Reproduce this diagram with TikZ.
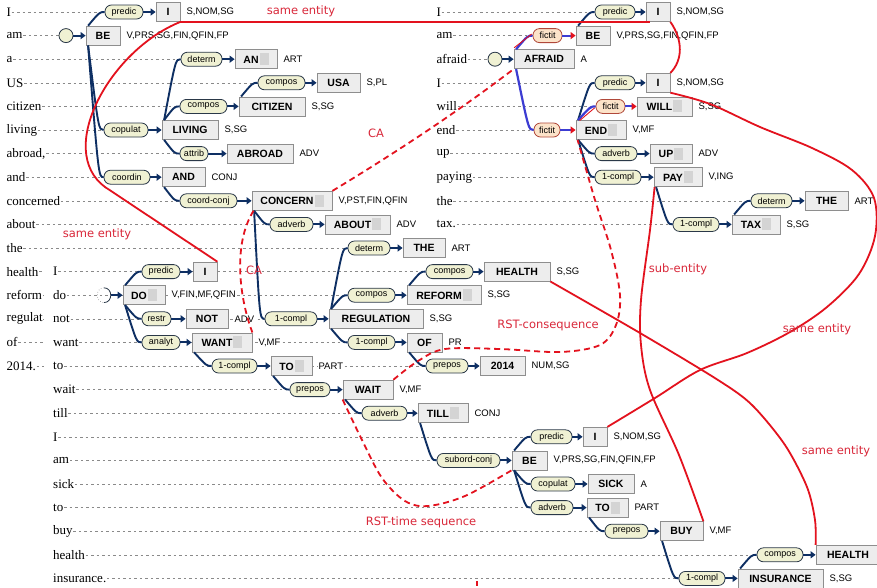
\documentclass[tikz,border=0pt]{standalone}
\usepackage{fontspec}
\setmainfont{Liberation Serif}
\setsansfont{Liberation Sans}
\newfontfamily\annfont{DejaVu Sans}
\usetikzlibrary{arrows.meta,backgrounds}

\definecolor{navy}{HTML}{0E2F63}
\definecolor{fictblue}{HTML}{3C3CD2}
\definecolor{linkred}{HTML}{E3121E}
\definecolor{annred}{HTML}{D9283A}
\definecolor{pillfill}{HTML}{F0F1D3}
\definecolor{pillline}{HTML}{2A3848}
\definecolor{fictfill}{HTML}{FCE3C9}
\definecolor{fictline}{HTML}{B0483A}
\definecolor{boxfill}{HTML}{EDEDED}
\definecolor{boxline}{HTML}{8E8E8E}
\definecolor{blurgray}{HTML}{D4D4D4}
\definecolor{wordline}{HTML}{8A8A8A}

% blurred lemma suffix inside a box
\newcommand\gb{\hspace{1pt}\textcolor{blurgray}{\rule[-2pt]{9pt}{12pt}}}

% label pill: [style]{name}{left}{right}{row}{text}
\newcommand\mklab[6][pill]{\node[#1, minimum width={(#4-#3)*1pt}] (#2) at ({(#3+#4)/2},{ry(#5)}) {#6};}
% word box with its tag: {name}{left}{right}{row}{text}{tag}
\newcommand\mkbox[6]{\node[box, minimum width={(#3-#2)*1pt}] (#1) at ({(#2+#3)/2},{ry(#4)}) {#5};
  \if\relax\detokenize{#6}\relax\else\node[tagt] (#1t) at ([xshift=5pt]#1.east) {#6};\fi}
% dependency edges from a head box to a label
\newcommand\eup[3][edge]{\draw[#1] ([xshift=2.5pt]#2.north west) .. controls ([xshift=-5pt]#3.west) .. (#3.west);}
\newcommand\edn[3][edge]{\draw[#1] ([xshift=2.5pt]#2.south west) .. controls ([xshift=-5pt]#3.west) .. (#3.west);}

\begin{document}
\begin{tikzpicture}[x=1pt,y=-1pt,
  declare function={ry(\k)=12+23.6*\k;},
  word/.style={font=\fontsize{13}{15}\selectfont, anchor=west, inner sep=0.5pt},
  wordb/.style={word, fill=white},
  wl/.style={draw=wordline, line width=0.6pt, dash pattern=on 2.5pt off 3pt},
  pill/.style={draw=pillline, fill=pillfill, line width=0.8pt, rounded corners=6.5pt,
    minimum height=14pt, inner sep=1pt, font=\sffamily\fontsize{9}{10}\selectfont},
  fict/.style={pill, draw=fictline, fill=fictfill},
  box/.style={draw=boxline, fill=boxfill, line width=0.8pt, minimum height=19pt, inner sep=2pt,
    font=\sffamily\bfseries\fontsize{10.5}{12}\selectfont},
  tagt/.style={anchor=west, fill=white, inner sep=1pt, font=\sffamily\fontsize{9.5}{11}\selectfont},
  root/.style={circle, draw=pillline, fill=pillfill, line width=0.8pt, minimum size=14pt, inner sep=0pt},
  edge/.style={draw=navy, line width=1.9pt},
  fedge/.style={draw=fictblue, line width=2.2pt},
  arr/.style={draw=navy, line width=1.9pt, -{Triangle[length=5pt,width=7pt]}},
  farr/.style={draw=fictblue, line width=2pt, -{Triangle[length=5pt,width=7pt,color=linkred]}},
  rel/.style={draw=linkred, line width=1.8pt},
  reld/.style={rel, dash pattern=on 6pt off 4pt},
  ann/.style={text=annred, font=\annfont\fontsize{11.5}{13}\selectfont, inner sep=0pt}]

\useasboundingbox (0,0) rectangle (877,587);
\begin{scope}[on background layer]
  \fill[white] (0,0) rectangle (877,587);
\end{scope}

% ---------- the sentences, one word per row ----------
\foreach \t [count=\i from 0] in {I,am,a,US,citizen,living,{abroad,},and,concerned,about,the,health,reform,regulat,of,2014.}
  \node[word] (wa\i) at (6,{ry(\i)}) {\t};
\foreach \t [count=\i from 11] in {I,do,not,want,to,wait,till,I,am,sick,to,buy,health,insurance.}
  \node[wordb] (wb\i) at (44,{ry(\i)}) {\hspace*{8.5pt}\t};
\foreach \t [count=\i from 0] in {I,am,afraid,I,will,end,up,paying,the,tax.}
  \node[word] (wc\i) at (436,{ry(\i)}) {\t};

% ---------- sentence 1 ----------
\node[root] (rA) at (66,{ry(1)}) {};
\mkbox{bA0}{156}{180}{0}{I}{S,NOM,SG}
\mkbox{bA1}{86}{120}{1}{BE}{V,PRS,SG,FIN,QFIN,FP}
\mkbox{bA2}{235}{277}{2}{AN\gb}{ART}
\mkbox{bA3}{317}{360}{3}{USA}{S,PL}
\mkbox{bA4}{239}{305}{4}{CITIZEN}{S,SG}
\mkbox{bA5}{162}{218}{5}{LIVING}{S,SG}
\mkbox{bA6}{227}{293}{6}{ABROAD}{ADV}
\mkbox{bA7}{162}{205}{7}{AND}{CONJ}
\mkbox{bA8}{252}{332}{8}{CONCERN\gb}{V,PST,FIN,QFIN}
\mkbox{bA9}{325}{390}{9}{ABOUT\gb}{ADV}
\mkbox{bA10}{403}{445}{10}{THE}{ART}
\mkbox{bA11}{484}{550}{11}{HEALTH}{S,SG}
\mkbox{bA12}{407}{481}{12}{REFORM\gb}{S,SG}
\mkbox{bA13}{329}{423}{13}{REGULATION}{S,SG}
\mkbox{bA14}{407}{442}{14}{OF}{PR}
\mkbox{bA15}{480}{525}{15}{2014}{NUM,SG}

\mklab{lA0}{105}{143}{0}{predic}
\mklab{lA2}{181}{222}{2}{determ}
\mklab{lA3}{258}{305}{3}{compos}
\mklab{lA4}{180}{227}{4}{compos}
\mklab{lA5}{104}{148}{5}{copulat}
\mklab{lA6}{180}{208}{6}{attrib}
\mklab{lA7}{104}{150}{7}{coordin}
\mklab{lA8}{180}{237}{8}{coord-conj}
\mklab{lA9}{270}{313}{9}{adverb}
\mklab{lA10}{348}{390}{10}{determ}
\mklab{lA11}{426}{473}{11}{compos}
\mklab{lA12}{348}{395}{12}{compos}
\mklab{lA13}{265}{317}{13}{1-compl}
\mklab{lA14}{348}{395}{14}{1-compl}
\mklab{lA15}{426}{468}{15}{prepos}

% ---------- sentence 2 ----------
\node[root, draw=none, fill=none] (rB) at (104,{ry(12)}) {};
\mkbox{bB11}{193}{217}{11}{I}{}
\mkbox{bB12}{123}{165}{12}{DO\gb}{V,FIN,MF,QFIN}
\mkbox{bB13}{186}{228}{13}{NOT}{ADV}
\mkbox{bB14}{192}{252}{14}{WANT\gb}{V,MF}
\mkbox{bB15}{271}{312}{15}{TO\gb}{PART}
\mkbox{bB16}{343}{393}{16}{WAIT}{V,MF}
\mkbox{bB17}{418}{468}{17}{TILL\gb}{CONJ}
\mkbox{bB18}{583}{607}{18}{I}{S,NOM,SG}
\mkbox{bB19}{512}{547}{19}{BE}{V,PRS,SG,FIN,QFIN,FP}
\mkbox{bB20}{588}{634}{20}{SICK}{A}
\mkbox{bB21}{587}{628}{21}{TO\gb}{PART}
\mkbox{bB22}{660}{703}{22}{BUY}{V,MF}
\mkbox{bB23}{816}{880}{23}{HEALTH}{}
\mkbox{bB24}{738}{823}{24}{INSURANCE}{S,SG}

\mklab{lB11}{142}{180}{11}{predic}
\mklab{lB13}{142}{171}{13}{restr}
\mklab{lB14}{142}{180}{14}{analyt}
\mklab{lB15}{212}{257}{15}{1-compl}
\mklab{lB16}{290}{330}{16}{prepos}
\mklab{lB17}{362}{407}{17}{adverb}
\mklab{lB18}{531}{572}{18}{predic}
\mklab{lB19}{437}{500}{19}{subord-conj}
\mklab{lB20}{531}{575}{20}{copulat}
\mklab{lB21}{531}{573}{21}{adverb}
\mklab{lB22}{605}{648}{22}{prepos}
\mklab{lB23}{757}{803}{23}{compos}
\mklab{lB24}{679}{725}{24}{1-compl}

% ---------- sentence 3 ----------
\node[root] (rC) at (495,{ry(2)}) {};
\mkbox{bC0}{646}{670}{0}{I}{S,NOM,SG}
\mkbox{bC1}{576}{610}{1}{BE}{V,PRS,SG,FIN,QFIN,FP}
\mkbox{bC2}{514}{574}{2}{AFRAID}{A}
\mkbox{bC3}{646}{670}{3}{I}{S,NOM,SG}
\mkbox{bC4}{637}{692}{4}{WILL\gb}{S,SG}
\mkbox{bC5}{576}{626}{5}{END\gb}{V,MF}
\mkbox{bC6}{650}{692}{6}{UP\gb}{ADV}
\mkbox{bC7}{654}{702}{7}{PAY\gb}{V,ING}
\mkbox{bC8}{805}{848}{8}{THE}{ART}
\mkbox{bC9}{732}{780}{9}{TAX\gb}{S,SG}

\mklab{lC0}{595}{635}{0}{predic}
\mklab[fict]{lC1}{533}{562}{1}{fictit}
\mklab{lC3}{595}{635}{3}{predic}
\mklab[fict]{lC4}{596}{625}{4}{fictit}
\mklab[fict]{lC5}{534}{560}{5}{fictit}
\mklab{lC6}{595}{637}{6}{adverb}
\mklab{lC7}{595}{641}{7}{1-compl}
\mklab{lC8}{751}{792}{8}{determ}
\mklab{lC9}{673}{719}{9}{1-compl}

% ---------- dotted guide lines from each word to its node ----------
\begin{scope}[on background layer]
  \foreach \a/\b in {wa0/lA0,wa1/rA,wa2/lA2,wa3/lA3,wa4/lA4,wa5/lA5,wa6/lA6,wa7/lA7,
      wa8/lA8,wa9/lA9,wa10/lA10,
      wb11/lB11,wb12/rB,wb13/lB13,wb14/lB14,wb15/lB15,wb16/lB16,wb17/lB17,wb18/lB18,
      wb19/lB19,wb20/lB20,wb21/lB21,wb22/lB22,wb23/lB23,wb24/lB24,
      wc0/lC0,wc1/lC1,wc2/rC,wc3/lC3,wc4/lC4,wc5/lC5,wc6/lC6,wc7/lC7,wc8/lC8,wc9/lC9}
    \draw[wl] (\a.east) -- (\a.east -| \b.west);
  % rows shared by both sentences: the first sentence's line resumes after the second's word
  \foreach \r in {11,...,15} {
    \draw[wl] (wa\r.east) -- (wa\r.east -| wb\r.west);
    \draw[wl] (wb\r.east) -- (wb\r.east -| lA\r.west);
  }
\end{scope}

% the root of sentence 2 is only half drawn
\draw[pillline, line width=0.8pt] (rB.north) .. controls ([xshift=9pt]rB.north) and ([xshift=9pt]rB.south) .. (rB.south);
\draw[wordline, line width=0.6pt, dotted] (rB.north) .. controls ([xshift=-9pt]rB.north) and ([xshift=-9pt]rB.south) .. (rB.south);

% ---------- dependency edges ----------
\eup{bA1}{lA0} \edn{bA1}{lA5} \edn{bA1}{lA7}
\eup{bA5}{lA2} \eup{bA5}{lA4} \edn{bA5}{lA6}
\eup{bA4}{lA3} \edn{bA7}{lA8}
\edn{bA8}{lA9} \edn{bA8}{lA13}
\eup{bA13}{lA10} \eup{bA13}{lA12} \edn{bA13}{lA14}
\eup{bA12}{lA11} \edn{bA14}{lA15}

\eup{bB12}{lB11} \edn{bB12}{lB13} \edn{bB12}{lB14}
\edn{bB14}{lB15} \edn{bB15}{lB16} \edn{bB16}{lB17} \edn{bB17}{lB19}
\eup{bB19}{lB18} \edn{bB19}{lB20} \edn{bB19}{lB21}
\edn{bB21}{lB22} \edn{bB22}{lB24} \eup{bB24}{lB23}

\eup[fedge]{bC2}{lC1} \edn[fedge]{bC2}{lC5}
\draw[linkred, line width=0.9pt] ([xshift=0.5pt,yshift=1.5pt]bC2.north west) -- ([xshift=-1pt,yshift=1.5pt]lC1.west);
\eup{bC1}{lC0}
\eup{bC5}{lC3} \eup[fedge]{bC5}{lC4}
\draw[linkred, line width=0.9pt] ([xshift=4pt,yshift=-0.5pt]bC5.north west) -- ([xshift=-1pt,yshift=-1.5pt]lC4.west);
\edn{bC5}{lC6} \edn{bC5}{lC7}
\edn{bC7}{lC9} \eup{bC9}{lC8}

% ---------- label-to-word arrows ----------
\draw[arr] (rA.east) -- (bA1.west);
\draw[arr] (rB.east) -- (bB12.west);
\draw[arr] (rC.east) -- (bC2.west);
\foreach \r in {0,2,3,4,5,6,7,8,9,10,11,12,13,14,15}
  \draw[arr] (lA\r.east) -- (bA\r.west);
\foreach \r in {11,13,14,15,16,17,18,19,20,21,22,23,24}
  \draw[arr] (lB\r.east) -- (bB\r.west);
\foreach \r in {0,3,6,7,8,9}
  \draw[arr] (lC\r.east) -- (bC\r.west);
\foreach \r in {1,4,5}
  \draw[farr] (lC\r.east) -- (bC\r.west);

% ---------- discourse and coreference links ----------
\draw[rel] (bA0.south east) -- ([xshift=4pt]bC0.south west);
\draw[rel] (bA0.south east) .. controls (110,50) and (55,150) .. (105,187) -- (bB11.north east);
\draw[rel] (bC0.south east) .. controls (683,40) and (683,60) .. (bC3.north east);
\draw[rel] plot[smooth, tension=0.55] coordinates {(bC3.south east) (710,104) (760,127) (812,148)
  (852,170) (874,198) (875,236) (859,274) (827,307) (790,332) (747,353) (700,370) (655,398) (bB18.north east)};
\draw[rel] plot[smooth, tension=0.55] coordinates {([xshift=1pt]bC7.south west) (650,230) (641,300)
  (641,345) (650,390) (679,455) (bB22.north east)};
\draw[rel] plot[smooth, tension=0.5] coordinates {(bA11.south east) (640,333) (718,380) (752,405)
  (785,445) (807,487) (815,520) (bB23.north west)};

\draw[reld] (bA8.north east) .. controls (400,150) and (460,110) .. (bC2.south west);
\draw[reld] ([xshift=2pt]bA8.south west) .. controls (232,245) and (240,300) .. (bB14.north east);
\draw[reld] plot[smooth, tension=0.55] coordinates {(bB16.north east) (418,361) (445,349) (500,349)
  (560,352) (600,345) (616,325) (620,295) (611,250) (595,200) ([xshift=2pt]bC5.south west)};
\draw[reld] plot[smooth, tension=0.55] coordinates {(bB16.south west) (362,440) (382,478) (405,501)
  (428,506) (465,496) (bB19.south west)};
\fill[linkred] (476,581) rectangle (478,586);

\node[ann] (n1) at (301,11) {same entity};
\node[ann] (n2) at (97,234) {same entity};
\node[ann] (n3) at (376,133) {CA};
\node[ann] (n4) at (254,270) {CA};
\node[ann] (n5) at (548,325) {RST-consequence};
\node[ann] (n6) at (678,269) {sub-entity};
\node[ann] (n7) at (817,329) {same entity};
\node[ann] (n8) at (836,451) {same entity};
\node[ann] (n9) at (421,522) {RST-time sequence};
\end{tikzpicture}
\end{document}
